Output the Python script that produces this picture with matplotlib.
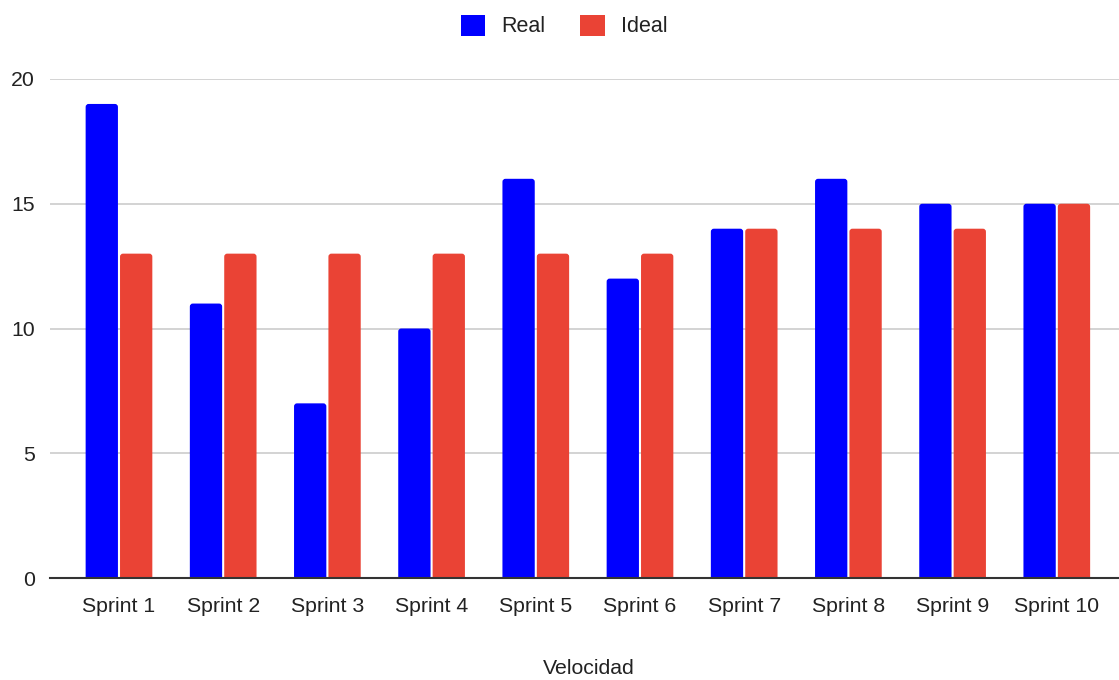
import matplotlib
matplotlib.use("Agg")
import matplotlib.pyplot as plt
from matplotlib.patches import FancyBboxPatch, Patch
import numpy as np

plt.rcParams['font.family'] = ['Liberation Sans', 'DejaVu Sans']

categories = ["Sprint 1", "Sprint 2", "Sprint 3", "Sprint 4", "Sprint 5",
              "Sprint 6", "Sprint 7", "Sprint 8", "Sprint 9", "Sprint 10"]
real = [19, 11, 7, 10, 16, 12, 14, 16, 15, 15]
ideal = [13, 13, 13, 13, 13, 13, 14, 14, 14, 15]
series_names = ["Real", "Ideal"]
colors = ["#0000FF", "#EA4335"]
yticks = [0, 5, 10, 15, 20]
xlabel = "Velocidad"

fig = plt.figure(figsize=(11.19, 6.8), dpi=100)
ax = fig.add_axes([50/1119, 1-578/680, 1-50/1119, (578-79)/680])

x = np.arange(len(categories))
w = 0.31
off = 0.165
ypx = 20 / 499.0   # y units per pixel
xpx = 1 / 104.2    # x units per pixel
r = 3 * xpx
for vals, sign, col in [(real, -1, colors[0]), (ideal, 1, colors[1])]:
    bars = ax.bar(x + sign * off, vals, width=w, color=col)
    for b in bars:
        b.set_visible(False)
        bx, bw, bh = b.get_x(), b.get_width(), b.get_height()
        p = FancyBboxPatch((bx, -0.3), bw, bh + 0.3,
                           boxstyle=f"round,pad=0,rounding_size={r}",
                           mutation_aspect=ypx / xpx,
                           facecolor=col, edgecolor='none', zorder=2)
        ax.add_patch(p)

ax.set_xlim(-0.662, 9.597)
ax.set_ylim(0, 20)
ax.set_yticks(yticks)
ax.set_xticks(x)
ax.set_xticklabels(categories)
ax.tick_params(axis='both', length=0, labelsize=15.3, colors='#222222')
ax.tick_params(axis='x', pad=14)
ax.tick_params(axis='y', pad=11)
ax.yaxis.grid(True, color='#CCCCCC', linewidth=1.2, zorder=0)
ax.set_axisbelow(True)
for s in ['top', 'right', 'left']:
    ax.spines[s].set_visible(False)
ax.spines['bottom'].set_color('#333333')
ax.spines['bottom'].set_linewidth(1.5)
ax.spines['bottom'].set_zorder(3)

fig.text(589/1119, 1-669/680, xlabel, ha='center', va='center',
         fontsize=15.3, color='#222222')

handles = [Patch(facecolor=c, edgecolor='none') for c in colors]
leg = fig.legend(handles, series_names, loc='center', ncol=2,
                 bbox_to_anchor=(564/1119, 1-26/680), frameon=False,
                 fontsize=15.5, handlelength=1.15, handleheight=1.15,
                 handletextpad=0.75, columnspacing=1.6)
for t in leg.get_texts():
    t.set_color('#222222')

fig.savefig("out.png", dpi=100)
